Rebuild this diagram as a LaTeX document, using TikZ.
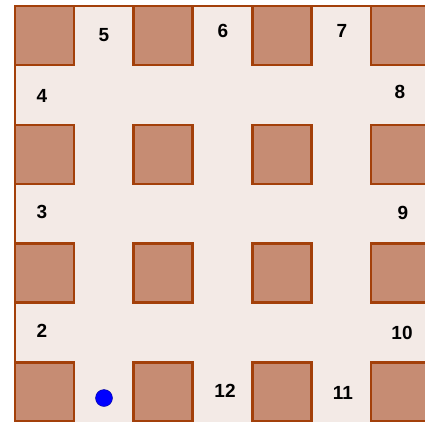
\documentclass[tikz,border=0pt]{standalone}
\usepackage{fontspec}
\setmainfont{Liberation Sans}
\definecolor{wall}{HTML}{A3400A}
\definecolor{block}{HTML}{C68C73}
\definecolor{floorc}{HTML}{F3EAE6}
\begin{document}
\begin{tikzpicture}[x=1pt,y=-1pt,
  blockbox/.style={draw=wall,fill=block,line width=2.6pt,minimum size=59pt,inner sep=0pt,anchor=north west,outer sep=0pt},
  lbl/.style={font=\fontsize{19}{19}\selectfont\bfseries,inner sep=0pt},
  dot/.style={circle,fill=blue,draw=blue!60!black,line width=0.4pt,minimum size=17pt,inner sep=0pt}]
\useasboundingbox (0,0) rectangle (425,421);
\clip (0,0) rectangle (425,421);
\fill[floorc] (15,6) rectangle (440,440);
\coordinate (tl) at (15,6);
\coordinate (bl) at (15,440);
\coordinate (tr) at (440,6);
\draw[wall,line width=2.6pt] (bl) -- (tl) -- (tr);
\foreach \i in {0,1,2,3}{
  \foreach \j in {0,1,2,3}{
    \node[blockbox] (b\i\j) at ({15+118.7*\i},{6+118.8*\j}) {};
  }
}
\node[lbl] (n5) at (104,35) {5};
\node[lbl] (n6) at (223,31) {6};
\node[lbl] (n7) at (342,31) {7};
\node[lbl] (n4) at (42,96) {4};
\node[lbl] (n8) at (400,92) {8};
\node[lbl] (n3) at (42,212) {3};
\node[lbl] (n9) at (403,213) {9};
\node[lbl] (n2) at (42,331) {2};
\node[lbl] (n10) at (402,333) {10};
\node[lbl] (n12) at (225,391) {12};
\node[lbl] (n11) at (343,393) {11};
\node[dot] (p) at (104,398) {};
\end{tikzpicture}
\end{document}
